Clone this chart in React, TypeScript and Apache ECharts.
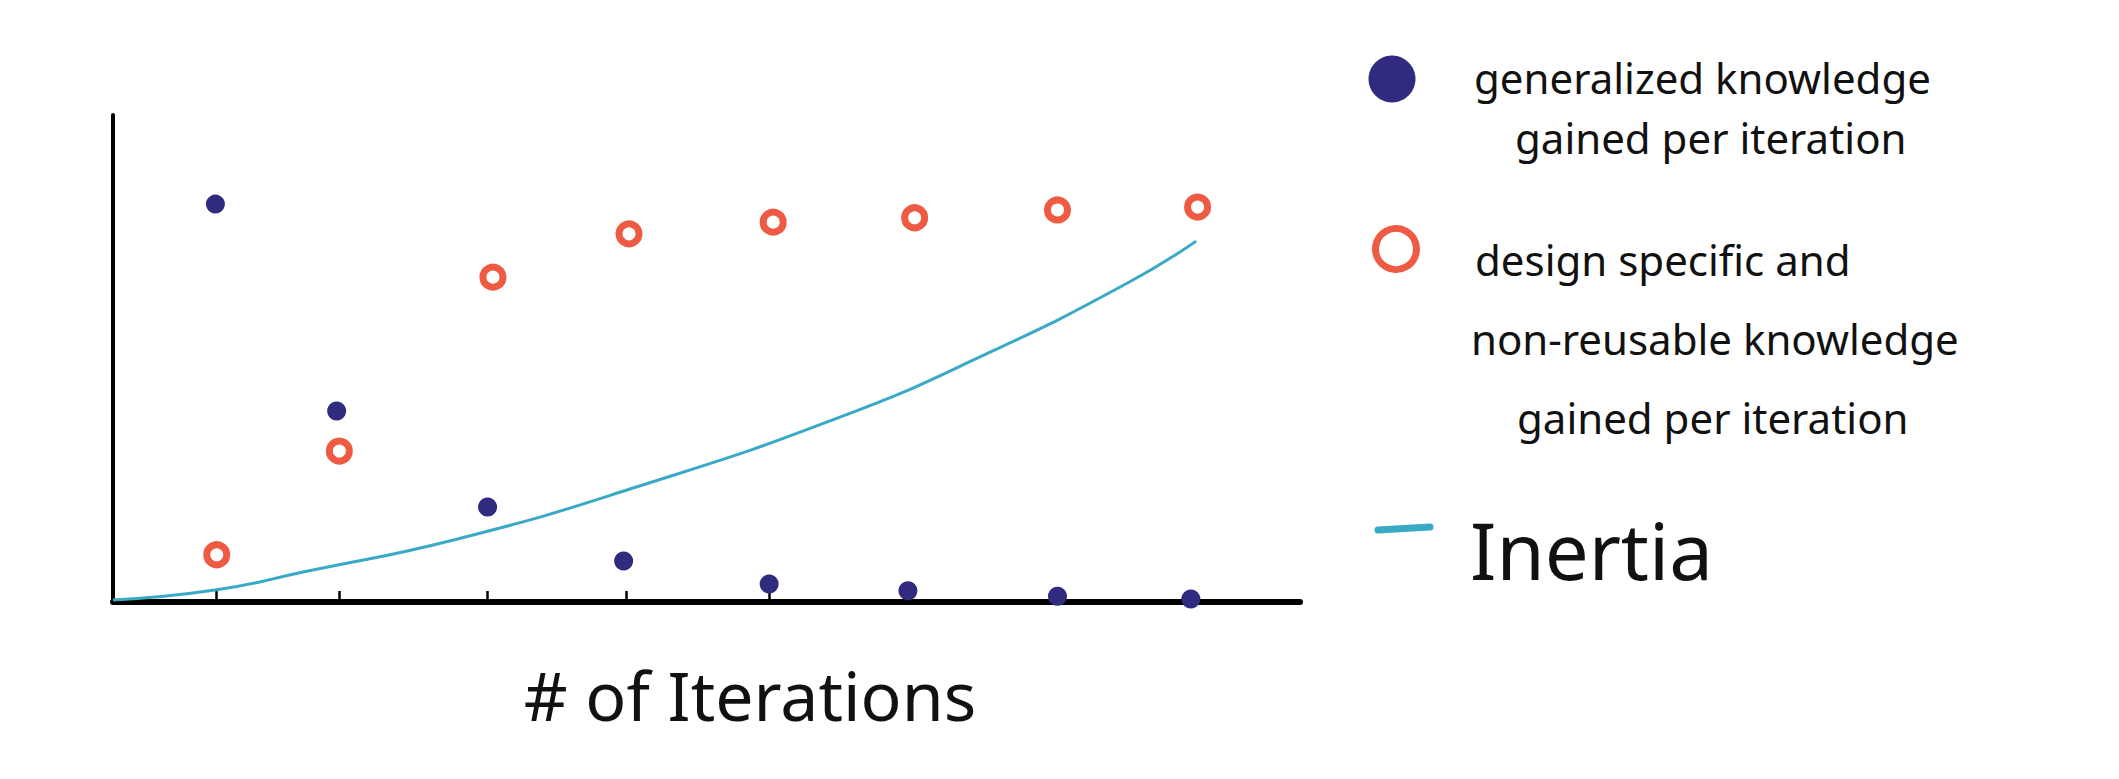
import React, { useEffect, useRef } from "react";
import * as echarts from "echarts";

// x in "iteration" units along the hand-drawn axis, y in arbitrary knowledge units (0..10)
const tickIterations = [0.77, 1.68, 2.78, 3.81, 4.87, 5.9, 7.01, 8.0];
const generalizedX = [0.76, 1.66, 2.78, 3.79, 4.87, 5.9, 7.01, 8.0];
const generalizedY = [8.17, 3.92, 1.95, 0.84, 0.37, 0.23, 0.12, 0.06];
const specificX = [0.77, 1.68, 2.82, 3.83, 4.9, 5.95, 7.01, 8.05];
const specificY = [0.97, 3.1, 6.67, 7.56, 7.8, 7.89, 8.05, 8.11];
const inertiaX = [0.0, 0.77, 1.42, 2.55, 3.86, 5.4, 6.51, 7.53, 8.04];
const inertiaY = [0.04, 0.25, 0.62, 1.29, 2.34, 3.8, 5.13, 6.55, 7.41];

const xAxisTitle = "# of Iterations";
const legendGeneralized = ["generalized knowledge", "gained per iteration"];
const legendSpecific = ["design specific and", "non-reusable knowledge", "gained per iteration"];
const legendInertia = "Inertia";

const BLUE = "#312b80";
const RED = "#ee5a42";
const TEAL = "#3aa9c5";
const FONT = "'Noto Sans', sans-serif";

export default function App() {
  const ref = useRef<HTMLDivElement>(null);

  useEffect(() => {
    if (!ref.current) return;
    const chart = echarts.init(ref.current, null, { renderer: "svg" });

    const zip = (xs: number[], ys: number[]) => xs.map((x, i) => [x, ys[i]]);

    const textEl = (text: string, x: number, y: number, size: number) => ({
      type: "text",
      x,
      y,
      style: {
        text,
        fill: "#111",
        font: `${size}px ${FONT}`,
        textVerticalAlign: "middle",
        verticalAlign: "middle",
      },
    });

    chart.setOption({
      animation: false,
      backgroundColor: "#ffffff",
      grid: { left: 113, top: 115, right: 819, bottom: 177, containLabel: false },
      xAxis: {
        type: "value",
        min: 0,
        max: 8.81,
        interval: 1,
        axisLine: { show: true, onZero: false, lineStyle: { color: "#000", width: 6 } },
        axisTick: {
          show: true,
          inside: true,
          length: 11,
          customValues: tickIterations,
          lineStyle: { color: "#000", width: 2.5 },
        },
        axisLabel: { show: false },
        splitLine: { show: false },
      },
      yAxis: {
        type: "value",
        min: 0,
        max: 10,
        interval: 1,
        axisLine: { show: true, onZero: false, lineStyle: { color: "#000", width: 4 } },
        axisTick: { show: false },
        axisLabel: { show: false },
        splitLine: { show: false },
      },
      series: [
        {
          name: legendInertia,
          type: "line",
          data: zip(inertiaX, inertiaY),
          smooth: true,
          showSymbol: false,
          symbol: "none",
          lineStyle: { color: TEAL, width: 3 },
          z: 2,
        },
        {
          name: legendGeneralized.join(" "),
          type: "scatter",
          data: zip(generalizedX, generalizedY),
          symbol: "circle",
          symbolSize: 19,
          itemStyle: { color: BLUE, opacity: 1 },
          z: 3,
        },
        {
          name: legendSpecific.join(" "),
          type: "scatter",
          data: zip(specificX, specificY),
          symbol: "circle",
          symbolSize: 20,
          itemStyle: { color: "#ffffff", borderColor: RED, borderWidth: 7, opacity: 1 },
          z: 4,
        },
      ],
      graphic: [
        {
          type: "text",
          x: 750,
          y: 694,
          style: {
            text: xAxisTitle,
            fill: "#111",
            font: `68px ${FONT}`,
            textAlign: "center",
            align: "center",
            textVerticalAlign: "middle",
            verticalAlign: "middle",
          },
        },
        { type: "circle", shape: { cx: 1392, cy: 79, r: 23.5 }, style: { fill: BLUE } },
        {
          type: "circle",
          shape: { cx: 1396, cy: 249, r: 20.5 },
          style: { fill: "#ffffff", stroke: RED, lineWidth: 7 },
        },
        {
          type: "line",
          shape: { x1: 1378, y1: 530, x2: 1430, y2: 527 },
          style: { stroke: TEAL, lineWidth: 7, lineCap: "round" },
        },
        textEl(legendGeneralized[0], 1474, 77, 42),
        textEl(legendGeneralized[1], 1515, 137, 42),
        textEl(legendSpecific[0], 1475, 259, 42),
        textEl(legendSpecific[1], 1471, 338, 42),
        textEl(legendSpecific[2], 1517, 417, 42),
        textEl(legendInertia, 1470, 550, 78),
      ],
    });

    return () => chart.dispose();
  }, []);

  return (
    <div
      ref={ref}
      style={{ position: "fixed", left: 0, top: 0, width: 2119, height: 779, background: "#fff" }}
    />
  );
}
